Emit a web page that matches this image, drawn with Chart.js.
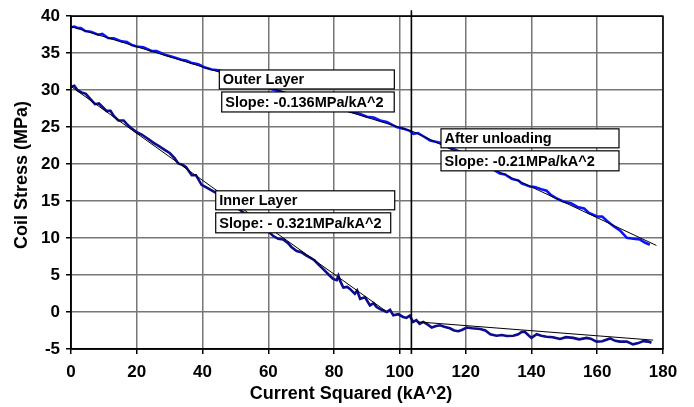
<!DOCTYPE html>
<html>
<head>
<meta charset="utf-8">
<script src="https://cdn.jsdelivr.net/npm/chart.js@4.4.0/dist/chart.umd.min.js"></script>
<style>
  html, body { margin: 0; padding: 0; background: #fff; }
  #grstress { display: block; }
</style>
</head>
<body>
<canvas id="grstress" width="694" height="407"></canvas>
<script>
// outer layer (measured stress vs I^2)
const outerX = [0, 1, 2, 3, 4.3, 6, 8.3, 9.5, 11.3, 13, 15.4, 17, 18.5, 20, 22, 24.5, 26, 28.6, 31, 33.6, 35, 36.5, 38.7, 40.5, 42.8, 44.8,
    50, 55, 61.4, 66, 72, 78, 82, 84.8, 86, 87.9, 90, 92, 94, 96, 99, 101, 103, 104.1, 105.5, 107, 109.2, 112.2,
    115, 118, 122, 126, 128, 130.4, 132, 134, 136, 137, 139.6, 141, 143, 144.6, 146, 147.5, 149.7, 152, 154, 156, 157.5,
    159.8, 161.5, 163, 165, 167, 169, 171, 173, 174.5, 176];
const outerY = [38.5, 38.6, 38.4, 38.4, 38.0, 37.9, 37.5, 37.6, 37.05, 37.0, 36.6, 36.5, 36.1, 35.9, 35.8, 35.3, 35.3, 34.8, 34.5, 34.1, 34.0, 33.7, 33.5, 33.1, 32.8, 32.7,
    31.9, 31.1, 30.1, 29.5, 28.7, 27.9, 27.5, 27.1, 27.0, 26.78, 26.4, 26.3, 25.9, 25.7, 25.0, 24.8, 24.5, 24.1, 24.2, 23.8, 23.2, 22.9,
    22.3, 21.7, 20.9, 20.0, 19.4, 18.74, 18.6, 18.0, 17.8, 17.4, 16.96, 16.9, 16.6, 16.4, 15.8, 15.4, 14.95, 14.7, 14.2, 14.0, 13.4,
    12.95, 12.9, 12.3, 11.6, 11.0, 10.04, 9.9, 9.8, 9.4, 9.1];

// inner layer
const innerX = [0, 1, 2, 3.2, 4.5, 5.5, 7.3, 8.5, 10.8, 12, 13, 14.4, 16, 17, 18.5, 20, 21.5, 23.5, 25, 26.5, 28.6, 30, 31.5, 32.6, 34, 35, 36.7, 38, 39.7, 41, 43.3,
    46, 49, 52, 55, 58, 60.5, 61.5, 63, 64.5, 66, 67, 68.6, 70, 71.7, 72.7, 74, 75.5, 76.7, 78.7, 79.7, 80.8, 81.3, 81.8, 82.8, 84, 84.8, 86.3, 87, 87.9, 89.4,
    90.9, 92, 92.9, 94, 96, 97, 98, 99.5, 101, 102, 103, 104, 105, 106, 107.1, 108.5, 109.7, 111, 112.2, 113.5, 115.2, 116.5, 117.8, 119, 120.3,
    122, 124.4, 126, 127.5, 129.4, 131, 132.5, 134.5, 136, 137, 138, 139, 140, 141.6, 143, 144.6, 146.5, 148.7, 150.5, 152.7, 154.5, 156.8,
    158, 159.8, 161.5, 163.9, 165.5, 166.9, 169, 170.9, 172.5, 174, 175.5, 176.5];
const innerY = [30.45, 30.6, 30.0, 29.7, 29.5, 29.0, 28.1, 28.2, 27.2, 27.2, 26.5, 25.9, 25.9, 25.4, 24.8, 24.3, 24.0, 23.4, 22.9, 22.5, 21.9, 21.5, 20.8, 20.1, 19.9, 19.6, 18.5, 18.5, 17.2, 16.9, 16.3,
    15.6, 14.6, 13.6, 12.6, 11.6, 10.7, 10.27, 9.9, 9.8, 9.3, 8.8, 8.26, 8.1, 7.6, 7.36, 7.0, 6.3, 5.8, 4.9, 4.47, 4.3, 4.9, 4.24, 3.3, 3.4, 3.13, 2.46, 2.9, 1.79, 2.0,
    0.89, 1.2, 0.67, 0.4, 0.0, 0.3, -0.45, -0.3, -0.67, -0.8, -0.5, -1.34, -1.1, -1.6, -1.34, -1.7, -2.1, -1.9, -1.8, -2.0, -2.2, -2.5, -2.6, -2.4, -2.1,
    -2.2, -2.3, -2.5, -3.0, -3.2, -3.1, -3.25, -3.2, -3.0, -2.7, -2.68, -3.1, -3.5, -3.0, -3.2, -3.35, -3.4, -3.65, -3.4, -3.5, -3.7, -3.5,
    -3.6, -4.0, -3.95, -3.57, -3.9, -4.0, -4.0, -4.37, -4.2, -3.93, -4.0, -4.15];

// linear fits
const outerFitX = [0, 104, 178];
const outerFitY = [38.6, 24.4, 9.0];
const innerFitX = [0, 95.5];
const innerFitY = [30.5, 0.2];
const unloadFitX = [105.6, 177];
const unloadFitY = [-1.34, -3.8];

const unloadAt = 103.5;   // current squared where unloading starts

const xTicks = [0, 20, 40, 60, 80, 100, 120, 140, 160, 180];
const yTicks = [-5, 0, 5, 10, 15, 20, 25, 30, 35, 40];

// text boxes: label lines and the data point of their top-left corner
const annoText = [
    ['Outer Layer', 'Slope: -0.136MPa/kA^2'],
    ['After unloading', 'Slope: -0.21MPa/kA^2'],
    ['Inner Layer', 'Slope: - 0.321MPa/kA^2']
];
const annoAtX = [45.1, 112.5, 44.0];
const annoAtY = [32.73, 24.77, 16.39];

const pts = (xs, ys) => xs.map((x, i) => ({ x: x, y: ys[i] }));

const boxW = [[175, 172.5], [178, 178], [179, 175]];
const boxDx = [[0, 2.4], [0, 0], [0, 0]];

const extras = {
    id: 'extras',
    afterDatasetsDraw(chart) {
        const ctx = chart.ctx;
        const a = chart.chartArea;
        const xs = chart.scales.x, ys = chart.scales.y;
        ctx.save();

        // unloading marker
        const vx = xs.getPixelForValue(unloadAt);
        ctx.strokeStyle = '#000';
        ctx.lineWidth = 1.6;
        ctx.beginPath();
        ctx.moveTo(vx, a.top - 6);
        ctx.lineTo(vx, a.bottom + 5);
        ctx.stroke();

        // plot frame
        ctx.lineWidth = 1.5;
        ctx.strokeRect(a.left, a.top, a.right - a.left, a.bottom - a.top);

        // text boxes
        ctx.font = 'bold 14.5px "Liberation Sans", Arial, sans-serif';
        ctx.textBaseline = 'middle';
        ctx.textAlign = 'left';
        annoText.forEach((lines, i) => {
            const bx = xs.getPixelForValue(annoAtX[i]);
            let by = ys.getPixelForValue(annoAtY[i]);
            lines.forEach((t, j) => {
                const h = j === 0 ? 19 : 20;
                const x0 = bx + boxDx[i][j];
                ctx.fillStyle = '#fff';
                ctx.fillRect(x0, by, boxW[i][j], h);
                ctx.strokeStyle = '#000';
                ctx.lineWidth = 1.2;
                ctx.strokeRect(x0, by, boxW[i][j], h);
                ctx.fillStyle = '#000';
                ctx.fillText(t, x0 + 3.5, by + h / 2 + 1);
                by += h + 3;
            });
        });

        // axis titles
        ctx.fillStyle = '#000';
        ctx.font = 'bold 18px "Liberation Sans", Arial, sans-serif';
        ctx.textAlign = 'center';
        ctx.fillText('Current Squared (kA^2)', 351, 394);
        ctx.translate(22, 175);
        ctx.rotate(-Math.PI / 2);
        ctx.fillText('Coil Stress (MPa)', 0, 0);
        ctx.restore();
    }
};

const tickFont = { family: '"Liberation Sans", Arial, sans-serif', size: 17, weight: 'bold' };

new Chart(document.getElementById('grstress'), {
    type: 'scatter',
    data: {
        datasets: [
            { data: pts(outerFitX, outerFitY), showLine: true, borderColor: '#000', borderWidth: 1, pointRadius: 0 },
            { data: pts(innerFitX, innerFitY), showLine: true, borderColor: '#000', borderWidth: 1, pointRadius: 0 },
            { data: pts(unloadFitX, unloadFitY), showLine: true, borderColor: '#000', borderWidth: 1, pointRadius: 0 },
            { data: pts(outerX, outerY), showLine: true, borderColor: '#0a14ff', borderWidth: 2.6, pointRadius: 0 },
            { data: pts(innerX, innerY), showLine: true, borderColor: '#0c0c8c', borderWidth: 2.6, pointRadius: 0 }
        ]
    },
    options: {
        responsive: false,
        animation: false,
        layout: { padding: { top: 13, right: 31, left: 0, bottom: 0 } },
        plugins: {
            legend: { display: false },
            tooltip: { enabled: false }
        },
        scales: {
            x: {
                type: 'linear',
                min: xTicks[0],
                max: xTicks[xTicks.length - 1],
                afterBuildTicks: s => { s.ticks = xTicks.map(v => ({ value: v })); },
                afterFit: s => { s.height = 58; },
                ticks: { color: '#000', font: tickFont, padding: 8, maxRotation: 0 },
                grid: { color: '#777', lineWidth: 1.5, tickLength: 5, tickColor: '#000' },
                border: { color: '#000', width: 1.5 }
            },
            y: {
                min: yTicks[0],
                max: yTicks[yTicks.length - 1],
                afterBuildTicks: s => { s.ticks = yTicks.map(v => ({ value: v })); },
                afterFit: s => { s.width = 71; },
                ticks: { color: '#000', font: tickFont, padding: 6 },
                grid: { color: '#777', lineWidth: 1.5, tickLength: 5, tickColor: '#000' },
                border: { color: '#000', width: 1.5 }
            }
        }
    },
    plugins: [extras]
});
</script>
</body>
</html>
